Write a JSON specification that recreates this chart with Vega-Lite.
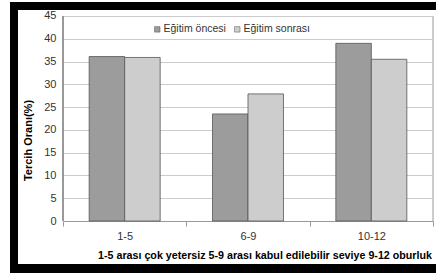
{
  "$schema": "https://vega.github.io/schema/vega-lite/v6.json",
  "width": 436,
  "height": 273,
  "autosize": {"type": "fit", "contains": "padding"},
  "padding": {"left": 10, "top": 2, "right": 0, "bottom": 0},
  "background": "white",
  "config": {
    "view": {"stroke": null, "fill": "white"},
    "font": "Liberation Sans, Arial, sans-serif",
    "axisY": {
      "offset": -53,
      "tickSize": -370,
      "domain": false,
      "grid": false,
      "labelOverlap": false,
      "labelPadding": 377,
      "labelFontSize": 11,
      "labelColor": "#333333",
      "titleX": -35,
      "titleY": 138,
      "titleAlign": "center",
      "titleBaseline": "middle",
      "titleFontSize": 11,
      "titleFontWeight": "bold",
      "titleColor": "#000000"
    },
    "axisX": {
      "offset": -52,
      "tickBand": "extent",
      "tickSize": 5,
      "tickColor": "#999999",
      "domain": false,
      "grid": false,
      "labelAngle": 0,
      "labelFontSize": 11,
      "labelColor": "#333333",
      "labelPadding": 4,
      "titleX": 254.5,
      "titleY": 34,
      "titleAlign": "center",
      "titleBaseline": "middle",
      "titleFontSize": 10.7,
      "titleFontWeight": "bold",
      "titleColor": "#000000"
    }
  },
  "data": {
    "values": [
      {"category": "1-5", "group": "Eğitim öncesi", "value": 36.1},
      {"category": "1-5", "group": "Eğitim sonrası", "value": 35.9},
      {"category": "6-9", "group": "Eğitim öncesi", "value": 23.5},
      {"category": "6-9", "group": "Eğitim sonrası", "value": 27.9},
      {"category": "10-12", "group": "Eğitim öncesi", "value": 39.0},
      {"category": "10-12", "group": "Eğitim sonrası", "value": 35.5}
    ]
  },
  "layer": [
    {
      "mark": {"type": "bar", "stroke": "#555555", "strokeWidth": 0.8},
      "encoding": {
        "x": {
          "field": "category",
          "type": "nominal",
          "sort": ["1-5", "6-9", "10-12"],
          "scale": {"paddingInner": 0, "paddingOuter": 0.227, "align": 0.9464},
          "axis": {
            "title": "1-5 arası çok yetersiz 5-9 arası kabul edilebilir  seviye  9-12 oburluk"
          }
        },
        "xOffset": {
          "field": "group",
          "sort": ["Eğitim öncesi", "Eğitim sonrası"],
          "scale": {"paddingInner": 0, "paddingOuter": 0.737}
        },
        "y": {
          "field": "value",
          "type": "quantitative",
          "scale": {"domain": [-11.414, 48.073], "nice": false, "zero": false},
          "axis": {
            "title": "Tercih Oranı(%)",
            "values": [0, 5, 10, 15, 20, 25, 30, 35, 40, 45],
            "tickColor": {"condition": {"test": "datum.value === 0", "value": "#999999"}, "value": "#cccccc"}
          }
        },
        "color": {
          "field": "group",
          "type": "nominal",
          "sort": ["Eğitim öncesi", "Eğitim sonrası"],
          "scale": {"domain": ["Eğitim öncesi", "Eğitim sonrası"], "range": ["#9c9c9c", "#cdcdcd"]},
          "legend": {
            "orient": "none",
            "legendX": 142,
            "legendY": 22,
            "direction": "horizontal",
            "title": null,
            "symbolType": "square",
            "symbolSize": 30,
            "symbolStrokeColor": "#555555",
            "symbolStrokeWidth": 0.5,
            "labelFontSize": 10.5,
            "labelColor": "#333333",
            "labelOffset": 1,
            "columnPadding": 6
          }
        }
      }
    },
    {
      "mark": {"type": "rule", "color": "#999999", "strokeWidth": 1},
      "encoding": {
        "x": {"datum": "1-5", "bandPosition": 0},
        "y": {
          "datum": 0,
          "axis": {
            "title": "Tercih Oranı(%)",
            "values": [0, 5, 10, 15, 20, 25, 30, 35, 40, 45],
            "tickColor": {"condition": {"test": "datum.value === 0", "value": "#999999"}, "value": "#cccccc"}
          }
        },
        "y2": {"datum": 45}
      }
    },
    {
      "mark": {"type": "rule", "color": "#cccccc", "strokeWidth": 1},
      "encoding": {
        "x": {"datum": "10-12", "bandPosition": 1},
        "y": {
          "datum": 0,
          "axis": {
            "title": "Tercih Oranı(%)",
            "values": [0, 5, 10, 15, 20, 25, 30, 35, 40, 45],
            "tickColor": {"condition": {"test": "datum.value === 0", "value": "#999999"}, "value": "#cccccc"}
          }
        },
        "y2": {"datum": 45}
      }
    },
    {
      "mark": {"type": "rect", "color": "black"},
      "encoding": {
        "y": {
          "datum": 48.073,
          "axis": {
            "title": "Tercih Oranı(%)",
            "values": [0, 5, 10, 15, 20, 25, 30, 35, 40, 45],
            "tickColor": {"condition": {"test": "datum.value === 0", "value": "#999999"}, "value": "#cccccc"}
          }
        },
        "y2": {"datum": 46.317}
      }
    },
    {
      "mark": {"type": "rect", "color": "black"},
      "encoding": {
        "y": {
          "datum": -9.438,
          "axis": {
            "title": "Tercih Oranı(%)",
            "values": [0, 5, 10, 15, 20, 25, 30, 35, 40, 45],
            "tickColor": {"condition": {"test": "datum.value === 0", "value": "#999999"}, "value": "#cccccc"}
          }
        },
        "y2": {"datum": -11.414}
      }
    },
    {
      "mark": {"type": "rect", "color": "black"},
      "encoding": {
        "x": {"value": 0},
        "x2": {"value": 8},
        "y": {
          "datum": 48.073,
          "axis": {
            "title": "Tercih Oranı(%)",
            "values": [0, 5, 10, 15, 20, 25, 30, 35, 40, 45],
            "tickColor": {"condition": {"test": "datum.value === 0", "value": "#999999"}, "value": "#cccccc"}
          }
        },
        "y2": {"datum": -11.414}
      }
    }
  ]
}
